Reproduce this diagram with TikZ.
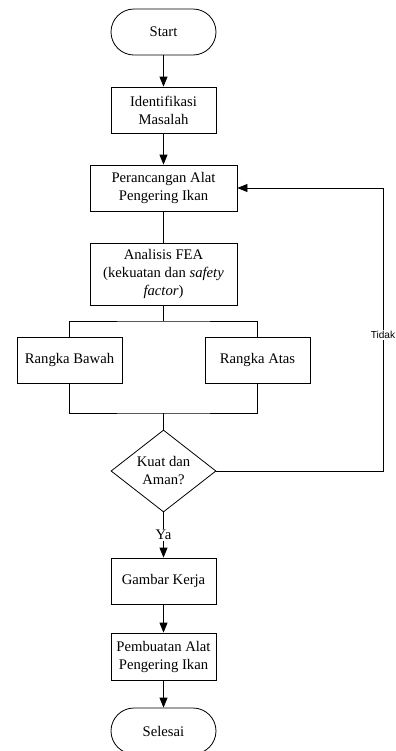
\documentclass[tikz,border=0pt]{standalone}
\usepackage{fontspec}
\setmainfont{Liberation Serif}
\setsansfont{Liberation Sans}
\usetikzlibrary{arrows.meta,shapes.geometric}
\begin{document}
\begin{tikzpicture}[x=0.75pt,y=-0.75pt,line width=0.6pt,
		box/.style={draw,rectangle,align=center,inner sep=0pt,minimum width=78.75pt,minimum height=34.5pt,font=\fontsize{11}{13.5}\selectfont},
		ends/.style={box,rounded corners=17.25pt},
		ask/.style={draw,diamond,align=center,inner sep=0pt,minimum width=78.75pt,minimum height=61.5pt,font=\fontsize{11}{13.5}\selectfont},
		arr/.style={-{Triangle[width=6pt,length=7.5pt]}},
		lbl/.style={fill=white,inner sep=1pt}]
	\useasboundingbox (0,0) rectangle (396,751);
	\node[ends] (start) at (163.5,32) {Start};
	\node[box] (ident) at (163.5,110) {Identifikasi\\Masalah};
	\node[box,minimum width=110.25pt] (peranc) at (163.5,188) {Perancangan Alat\\Pengering Ikan};
	\node[box,minimum width=110.25pt,minimum height=46.5pt] (fea) at (163.5,274) {Analisis FEA\\(kekuatan dan \textit{safety}\\\textit{factor})};
	\node[box] (bawah) at (69.5,360) {Rangka Bawah};
	\node[box] (atas) at (257.5,360) {Rangka Atas};
	\node[ask] (cek) at (163.5,471) {Kuat dan\\Aman?};
	\node[box] (gambar) at (163.5,581) {Gambar Kerja};
	\node[box,minimum height=35.25pt] (buat) at (163.5,656.5) {Pembuatan Alat\\Pengering Ikan};
	\node[ends] (selesai) at (163.5,731) {Selesai};
	\coordinate (split) at (163.5,321);
	\coordinate (join) at (163.5,413);
	\coordinate (loopb) at (383,471);
	\coordinate (loopt) at (383,188);
	\draw[arr] (start) -- (ident);
	\draw[arr] (ident) -- (peranc);
	\draw (peranc) -- (fea);
	\draw (fea) -- (split);
	\draw (bawah.north) |- (split) -| (atas.north);
	\draw (bawah.south) |- (join) -| (atas.south);
	\draw (join) -- (cek);
	\draw[arr] (cek) -- node[lbl,font=\fontsize{11}{13.5}\selectfont] {Ya} (gambar);
	\draw[arr] (cek.east) -- (loopb) -- node[lbl,pos=0.48,font=\sffamily\fontsize{7.6}{9}\selectfont] {Tidak} (loopt) -- (peranc.east);
	\draw[arr] (gambar) -- (buat);
	\draw[arr] (buat) -- (selesai);
\end{tikzpicture}
\end{document}
